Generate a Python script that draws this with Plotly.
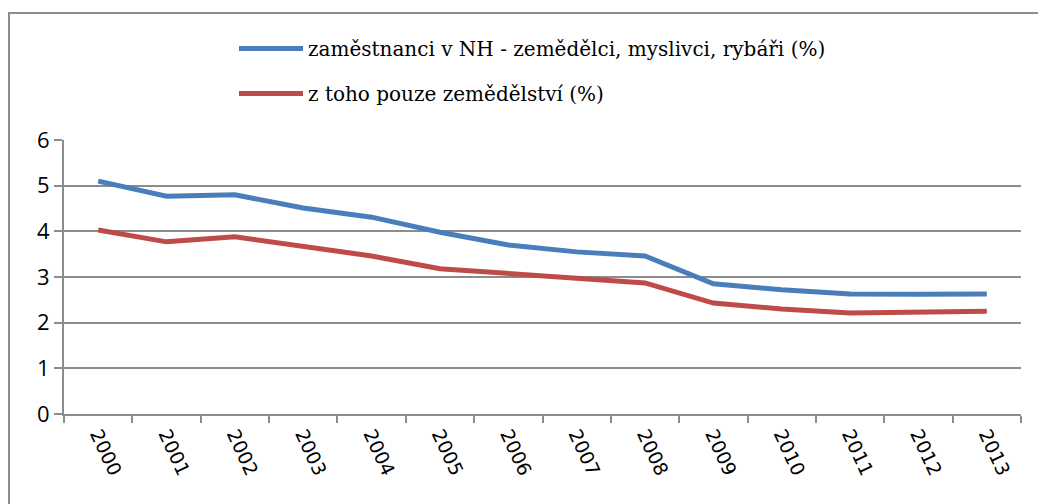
import plotly.graph_objects as go

years = ["2000", "2001", "2002", "2003", "2004", "2005", "2006",
         "2007", "2008", "2009", "2010", "2011", "2012", "2013"]
blue_name = "zaměstnanci v NH - zemědělci, myslivci, rybáři (%)"
red_name = "z toho pouze zemědělství (%)"
blue_vals = [5.10, 4.77, 4.80, 4.51, 4.31, 3.98, 3.70, 3.55, 3.46, 2.85, 2.72, 2.63, 2.62, 2.63]
red_vals = [4.03, 3.77, 3.88, 3.66, 3.46, 3.18, 3.07, 2.96, 2.87, 2.43, 2.30, 2.21, 2.23, 2.25]
y_ticks = [0, 1, 2, 3, 4, 5, 6]

W, H = 1038, 504
L, T = 64, 140
R = W - 1021
B = H - 414
pw, ph = W - L - R, H - T - B


def px_x(p):
    return (p - L) / pw


def px_y(p):
    return (H - B - p) / ph


fig = go.Figure()
fig.add_trace(go.Scatter(x=years, y=blue_vals, mode="lines", name=blue_name,
                         line=dict(color="#4a7ebb", width=5), legend="legend"))
fig.add_trace(go.Scatter(x=years, y=red_vals, mode="lines", name=red_name,
                         line=dict(color="#be4b48", width=5), legend="legend2"))

legend_font = dict(family="DejaVu Serif", size=20, color="black")
fig.update_layout(
    width=W, height=H,
    margin=dict(l=L, r=R, t=T, b=B),
    paper_bgcolor="white", plot_bgcolor="white",
    showlegend=True,
    legend=dict(x=px_x(234), y=px_y(29), xanchor="left", yanchor="top",
                font=legend_font, itemwidth=64, bgcolor="rgba(0,0,0,0)"),
    legend2=dict(x=px_x(234), y=px_y(74), xanchor="left", yanchor="top",
                 font=legend_font, itemwidth=64, bgcolor="rgba(0,0,0,0)"),
    xaxis=dict(type="category", tickson="boundaries", ticks="outside", ticklen=7,
               tickcolor="#8c8c8c", tickwidth=2, showline=True, linecolor="#8c8c8c",
               linewidth=2, showgrid=False, tickangle=65,
               tickfont=dict(family="DejaVu Sans", size=19, color="black"),
               range=[-0.5, 13.5]),
    yaxis=dict(range=[0, 6], tickvals=y_ticks, ticks="outside", ticklen=8,
               tickcolor="#8c8c8c", tickwidth=2, showline=True, linecolor="#8c8c8c",
               linewidth=2, showgrid=True, gridcolor="#8c8c8c", gridwidth=2,
               zeroline=False,
               tickfont=dict(family="Open Sans", size=22, color="black")),
    shapes=[
        dict(type="line", xref="paper", yref="paper",
             x0=px_x(9), x1=px_x(9), y0=px_y(600), y1=px_y(13),
             line=dict(color="#8c8c8c", width=2), layer="below"),
        dict(type="line", xref="paper", yref="paper",
             x0=px_x(8), x1=px_x(1100), y0=px_y(13), y1=px_y(13),
             line=dict(color="#8c8c8c", width=2), layer="below"),
    ],
)
fig.write_html(
    "out.html",
    config={"displayModeBar": False},
    post_script="document.body.style.margin='0';document.body.style.overflow='hidden';",
)
